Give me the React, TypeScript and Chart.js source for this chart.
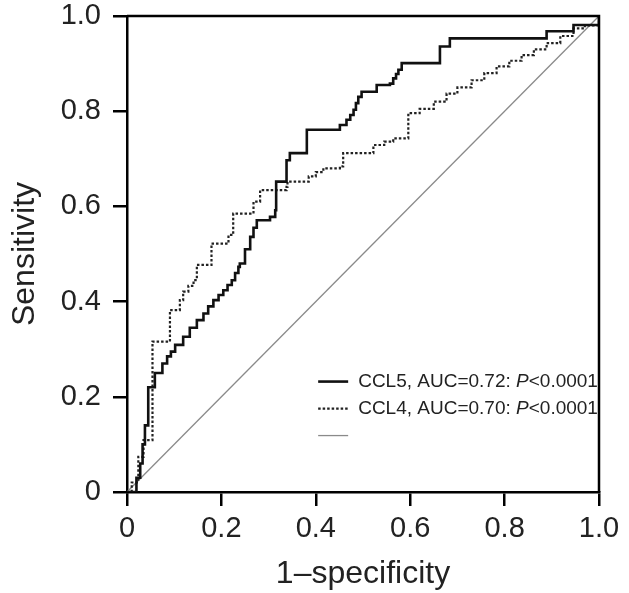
import React, { useEffect, useRef } from "react";
import { Chart, registerables } from "chart.js";

Chart.register(...registerables);

// ROC points (1-specificity, sensitivity)
const ccl5FPR = [0, 0.02, 0.028, 0.033, 0.038, 0.045, 0.045, 0.059, 0.059, 0.066, 0.075, 0.085, 0.093, 0.102, 0.119, 0.133, 0.148, 0.162, 0.172, 0.183, 0.194, 0.204, 0.213, 0.222, 0.229, 0.236, 0.239, 0.25, 0.261, 0.268, 0.275, 0.303, 0.314, 0.316, 0.338, 0.338, 0.345, 0.381, 0.381, 0.43, 0.451, 0.465, 0.473, 0.48, 0.485, 0.49, 0.497, 0.522, 0.529, 0.557, 0.564, 0.57, 0.575, 0.582, 0.663, 0.663, 0.684, 0.889, 0.889, 0.946, 0.946, 1.0, 1.0];
const ccl5TPR = [0, 0.03, 0.06, 0.1, 0.14, 0.14, 0.22, 0.22, 0.25, 0.25, 0.27, 0.285, 0.295, 0.309, 0.326, 0.345, 0.361, 0.375, 0.39, 0.403, 0.414, 0.424, 0.435, 0.445, 0.46, 0.473, 0.48, 0.51, 0.536, 0.555, 0.571, 0.578, 0.592, 0.652, 0.652, 0.697, 0.712, 0.712, 0.761, 0.761, 0.771, 0.782, 0.792, 0.803, 0.817, 0.83, 0.841, 0.841, 0.855, 0.858, 0.869, 0.878, 0.887, 0.901, 0.904, 0.936, 0.953, 0.953, 0.968, 0.968, 0.981, 0.985, 1.0];

const ccl4FPR = [0, 0.01, 0.024, 0.024, 0.035, 0.035, 0.054, 0.054, 0.091, 0.091, 0.102, 0.112, 0.119, 0.13, 0.141, 0.148, 0.148, 0.176, 0.179, 0.179, 0.204, 0.215, 0.225, 0.225, 0.254, 0.268, 0.282, 0.338, 0.34, 0.381, 0.385, 0.4, 0.416, 0.451, 0.458, 0.501, 0.522, 0.545, 0.564, 0.596, 0.596, 0.62, 0.65, 0.677, 0.7, 0.73, 0.757, 0.783, 0.81, 0.836, 0.862, 0.889, 0.918, 0.946, 0.97, 1.0, 1.0];
const ccl4TPR = [0, 0.02, 0.03, 0.074, 0.074, 0.109, 0.109, 0.316, 0.316, 0.382, 0.382, 0.403, 0.421, 0.433, 0.445, 0.456, 0.477, 0.477, 0.48, 0.522, 0.522, 0.54, 0.557, 0.585, 0.585, 0.61, 0.634, 0.641, 0.652, 0.652, 0.663, 0.672, 0.68, 0.684, 0.712, 0.712, 0.729, 0.736, 0.743, 0.747, 0.796, 0.805, 0.82, 0.837, 0.85, 0.865, 0.88, 0.894, 0.906, 0.918, 0.93, 0.943, 0.958, 0.974, 0.98, 0.988, 1.0];

const refFPR = [0, 1];
const refTPR = [0, 1];

const axisTicks = [0, 0.2, 0.4, 0.6, 0.8, 1.0];
const tickLabels = ["0", "0.2", "0.4", "0.6", "0.8", "1.0"];

const seriesLabels = ["CCL5, AUC=0.72: P<0.0001", "CCL4, AUC=0.70: P<0.0001", ""];
const xTitle = "1\u2013specificity";
const yTitle = "Sensitivity";

const FONT = "'Liberation Sans', Arial, Helvetica, sans-serif";

const toPoints = (xs: number[], ys: number[]) => xs.map((x, i) => ({ x, y: ys[i] }));

const labelFor = (v: number) => {
  const i = axisTicks.findIndex((t) => Math.abs(t - v) < 1e-6);
  return i >= 0 ? tickLabels[i] : "";
};

const framePlugin = {
  id: "frame",
  afterDatasetsDraw(chart: any) {
    const { ctx, chartArea } = chart;
    ctx.save();
    ctx.strokeStyle = "#000";
    ctx.lineWidth = 2.5;
    ctx.beginPath();
    ctx.moveTo(chartArea.left, chartArea.top);
    ctx.lineTo(chartArea.right, chartArea.top);
    ctx.lineTo(chartArea.right, chartArea.bottom);
    ctx.stroke();
    ctx.restore();
  },
};

const insetLegendPlugin = {
  id: "insetLegend",
  afterDraw(chart: any) {
    const { ctx, chartArea } = chart;
    const w = chartArea.right - chartArea.left;
    const h = chartArea.bottom - chartArea.top;
    const x0 = chartArea.left + 0.405 * w;
    const y0 = chartArea.top + 0.768 * h;
    const rowH = 27;
    const sampleW = 30;
    ctx.save();
    chart.data.datasets.forEach((ds: any, i: number) => {
      const y = y0 + i * rowH;
      ctx.beginPath();
      ctx.strokeStyle = ds.borderColor;
      ctx.lineWidth = ds.borderWidth;
      ctx.setLineDash(ds.borderDash || []);
      ctx.moveTo(x0, y);
      ctx.lineTo(x0 + sampleW, y);
      ctx.stroke();
      ctx.setLineDash([]);
      const label: string = ds.label || "";
      if (!label) return;
      ctx.fillStyle = "#222";
      ctx.textBaseline = "middle";
      ctx.textAlign = "left";
      let tx = x0 + sampleW + 10;
      const pIdx = label.lastIndexOf("P");
      const parts =
        pIdx >= 0
          ? [
              { t: label.slice(0, pIdx), it: false },
              { t: "P", it: true },
              { t: label.slice(pIdx + 1), it: false },
            ]
          : [{ t: label, it: false }];
      parts.forEach((p) => {
        ctx.font = `${p.it ? "italic " : ""}19px ${FONT}`;
        ctx.fillText(p.t, tx, y);
        tx += ctx.measureText(p.t).width;
      });
    });
    ctx.restore();
  },
};

export default function App() {
  const canvasRef = useRef<HTMLCanvasElement | null>(null);

  useEffect(() => {
    if (!canvasRef.current) return;
    const chart = new Chart(canvasRef.current, {
      type: "line",
      data: {
        datasets: [
          {
            label: seriesLabels[0],
            data: toPoints(ccl5FPR, ccl5TPR),
            borderColor: "#111",
            borderWidth: 2.6,
            pointRadius: 0,
            stepped: "before",
            fill: false,
          },
          {
            label: seriesLabels[1],
            data: toPoints(ccl4FPR, ccl4TPR),
            borderColor: "#222",
            borderWidth: 2.2,
            borderDash: [2.5, 2],
            pointRadius: 0,
            stepped: "before",
            fill: false,
          },
          {
            label: seriesLabels[2],
            data: toPoints(refFPR, refTPR),
            borderColor: "#8a8a8a",
            borderWidth: 1.3,
            pointRadius: 0,
            fill: false,
          },
        ] as any,
      },
      options: {
        animation: false,
        responsive: false,
        maintainAspectRatio: false,
        layout: { padding: { left: 0, top: 16, right: 30, bottom: 0 } },
        plugins: { legend: { display: false }, tooltip: { enabled: false } },
        scales: {
          x: {
            type: "linear",
            min: 0,
            max: 1,
            afterBuildTicks: (scale: any) => {
              scale.ticks = axisTicks.map((v) => ({ value: v }));
            },
            afterFit: (scale: any) => {
              scale.height = 101;
              scale.paddingLeft = 0;
              scale.paddingRight = 0;
            },
            ticks: {
              callback: (v: any) => labelFor(Number(v)),
              color: "#222",
              font: { size: 29, family: FONT },
              padding: 6,
              maxRotation: 0,
              autoSkip: false,
            },
            grid: {
              drawOnChartArea: false,
              drawTicks: true,
              tickLength: 14,
              color: "#000",
              lineWidth: 2.5,
            },
            border: { display: true, color: "#000", width: 2.5 },
            title: {
              display: true,
              text: xTitle,
              color: "#222",
              font: { size: 32, family: FONT },
              padding: { top: 0, bottom: 0 },
            },
          },
          y: {
            type: "linear",
            min: 0,
            max: 1,
            afterBuildTicks: (scale: any) => {
              scale.ticks = axisTicks.map((v) => ({ value: v }));
            },
            afterFit: (scale: any) => {
              scale.width = 127;
              scale.paddingTop = 0;
              scale.paddingBottom = 0;
            },
            ticks: {
              callback: (v: any) => labelFor(Number(v)),
              color: "#222",
              font: { size: 29, family: FONT },
              padding: 12,
              autoSkip: false,
            },
            grid: {
              drawOnChartArea: false,
              drawTicks: true,
              tickLength: 14,
              color: "#000",
              lineWidth: 2.5,
            },
            border: { display: true, color: "#000", width: 2.5 },
            title: {
              display: true,
              text: yTitle,
              color: "#222",
              font: { size: 32, family: FONT },
              padding: { top: 6, bottom: 0 },
            },
          },
        },
      },
      plugins: [framePlugin, insetLegendPlugin],
    } as any);
    return () => chart.destroy();
  }, []);

  return (
    <div style={{ position: "fixed", left: 0, top: 0, width: 629, height: 593, background: "#fff" }}>
      <canvas ref={canvasRef} width={629} height={593} style={{ width: 629, height: 593, display: "block" }} />
    </div>
  );
}
